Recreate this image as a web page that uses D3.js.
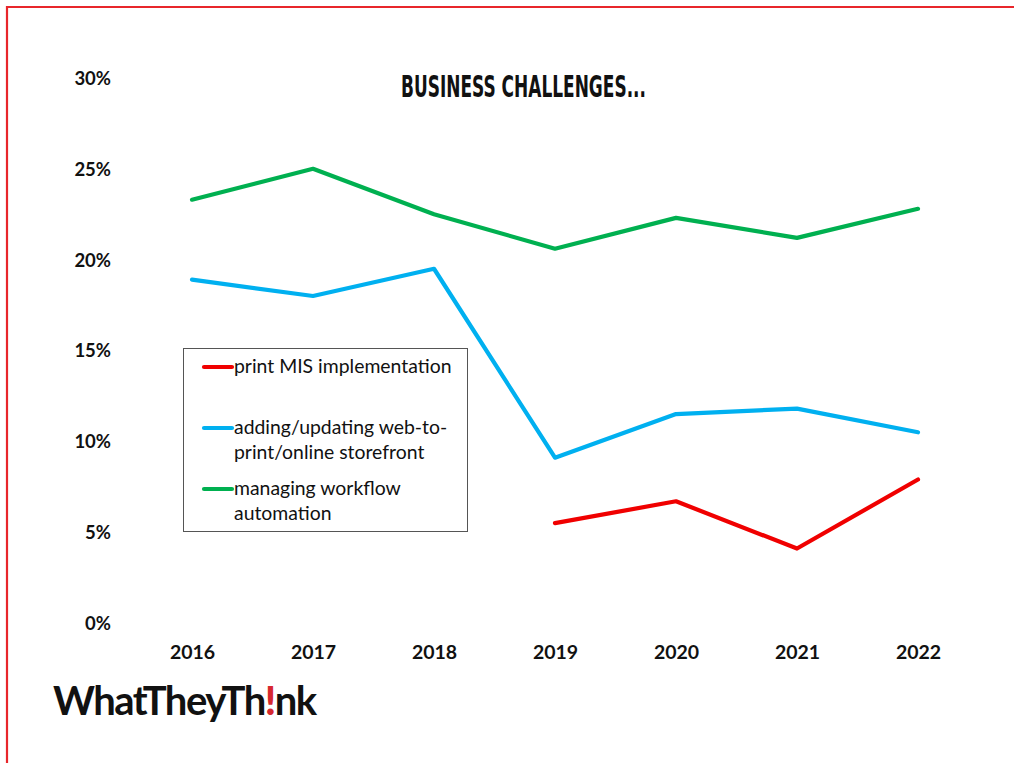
<!DOCTYPE html>
<html><head><meta charset="utf-8">
<script src="https://cdn.jsdelivr.net/npm/d3@7"></script>
<style>body{margin:0;background:#fff;}svg{display:block;}</style>
</head><body>
<script>
const years = ["2016","2017","2018","2019","2020","2021","2022"];
const printMIS = [null,null,null,5.5,6.7,4.1,7.9];
const webToPrint = [18.9,18.0,19.5,9.1,11.5,11.8,10.5];
const workflow = [23.3,25.0,22.5,20.6,22.3,21.2,22.8];
const yTicks = [0,5,10,15,20,25,30];
const seriesNames = ["print MIS implementation","adding/updating web-to-|print/online storefront","managing workflow|automation"];
const seriesColors = ["#f00000","#00b0f0","#00b050"];
const title = "BUSINESS CHALLENGES...";

const W=1014,H=763;
const svg=d3.select("body").append("svg").attr("width",W).attr("height",H);
svg.append("rect").attr("width",W).attr("height",H).attr("fill","#fff");
// frame
svg.append("path").attr("d",`M7,${H} V7 H${W}`).attr("fill","none").attr("stroke","#e8262b").attr("stroke-width",2.2);

const x=d3.scalePoint().domain(years).range([192,918]);
const y=d3.scaleLinear().domain([0,30]).range([623,78]);
const font="Lato, 'Noto Sans', sans-serif";

const yAxis=svg.append("g").attr("transform","translate(111,0)")
  .call(d3.axisLeft(y).tickValues(yTicks).tickFormat(d=>d+"%").tickSize(0).tickPadding(0));
yAxis.select(".domain").remove();
yAxis.selectAll("text").attr("font-family",font).attr("font-weight",700).attr("font-size",18.5).attr("fill","#111").attr("dy","0.35em");

const xAxis=svg.append("g").attr("transform","translate(0,639)")
  .call(d3.axisBottom(x).tickSize(0).tickPadding(0));
xAxis.select(".domain").remove();
xAxis.selectAll("text").attr("font-family",font).attr("font-weight",700).attr("font-size",19.5).attr("fill","#111").attr("dy","1em");

const all=[printMIS,webToPrint,workflow];
const line=d3.line().defined(d=>d!=null).x((d,i)=>x(years[i])).y(d=>y(d));
all.forEach((s,k)=>{
  svg.append("path").attr("d",line(s)).attr("fill","none").attr("stroke",seriesColors[k]).attr("stroke-width",4.2).attr("stroke-linejoin","round").attr("stroke-linecap","round");
});

svg.append("text").attr("x",401).attr("y",97).attr("font-family","'Liberation Sans Narrow','DejaVu Sans Condensed',sans-serif").attr("font-weight",700)
  .attr("font-size",30).attr("textLength",245).attr("lengthAdjust","spacingAndGlyphs").attr("fill","#111").text(title);

// legend
const lg=svg.append("g");
lg.append("rect").attr("x",183.5).attr("y",348.5).attr("width",284).attr("height",183).attr("fill","#fff").attr("stroke","#555").attr("stroke-width",1);
const ly=[367,428,489];
seriesNames.forEach((n,k)=>{
  lg.append("line").attr("x1",204).attr("x2",232).attr("y1",ly[k]).attr("y2",ly[k]).attr("stroke",seriesColors[k]).attr("stroke-width",4.2).attr("stroke-linecap","round");
  n.split("|").forEach((t,j)=>{
    lg.append("text").attr("x",234).attr("y",ly[k]+6+j*25).attr("font-family",font).attr("font-size",19.4).attr("fill","#111").text(t);
  });
});

// logo
const logo=svg.append("text").attr("x",53).attr("y",715).attr("font-family",font).attr("font-weight",700).attr("font-size",40)
  .attr("letter-spacing",-1.5).attr("fill","#111");
logo.append("tspan").text("WhatTheyTh");
logo.append("tspan").attr("fill","#d7282f").attr("font-weight",900).text("!");
logo.append("tspan").text("nk");
</script>
</body></html>
